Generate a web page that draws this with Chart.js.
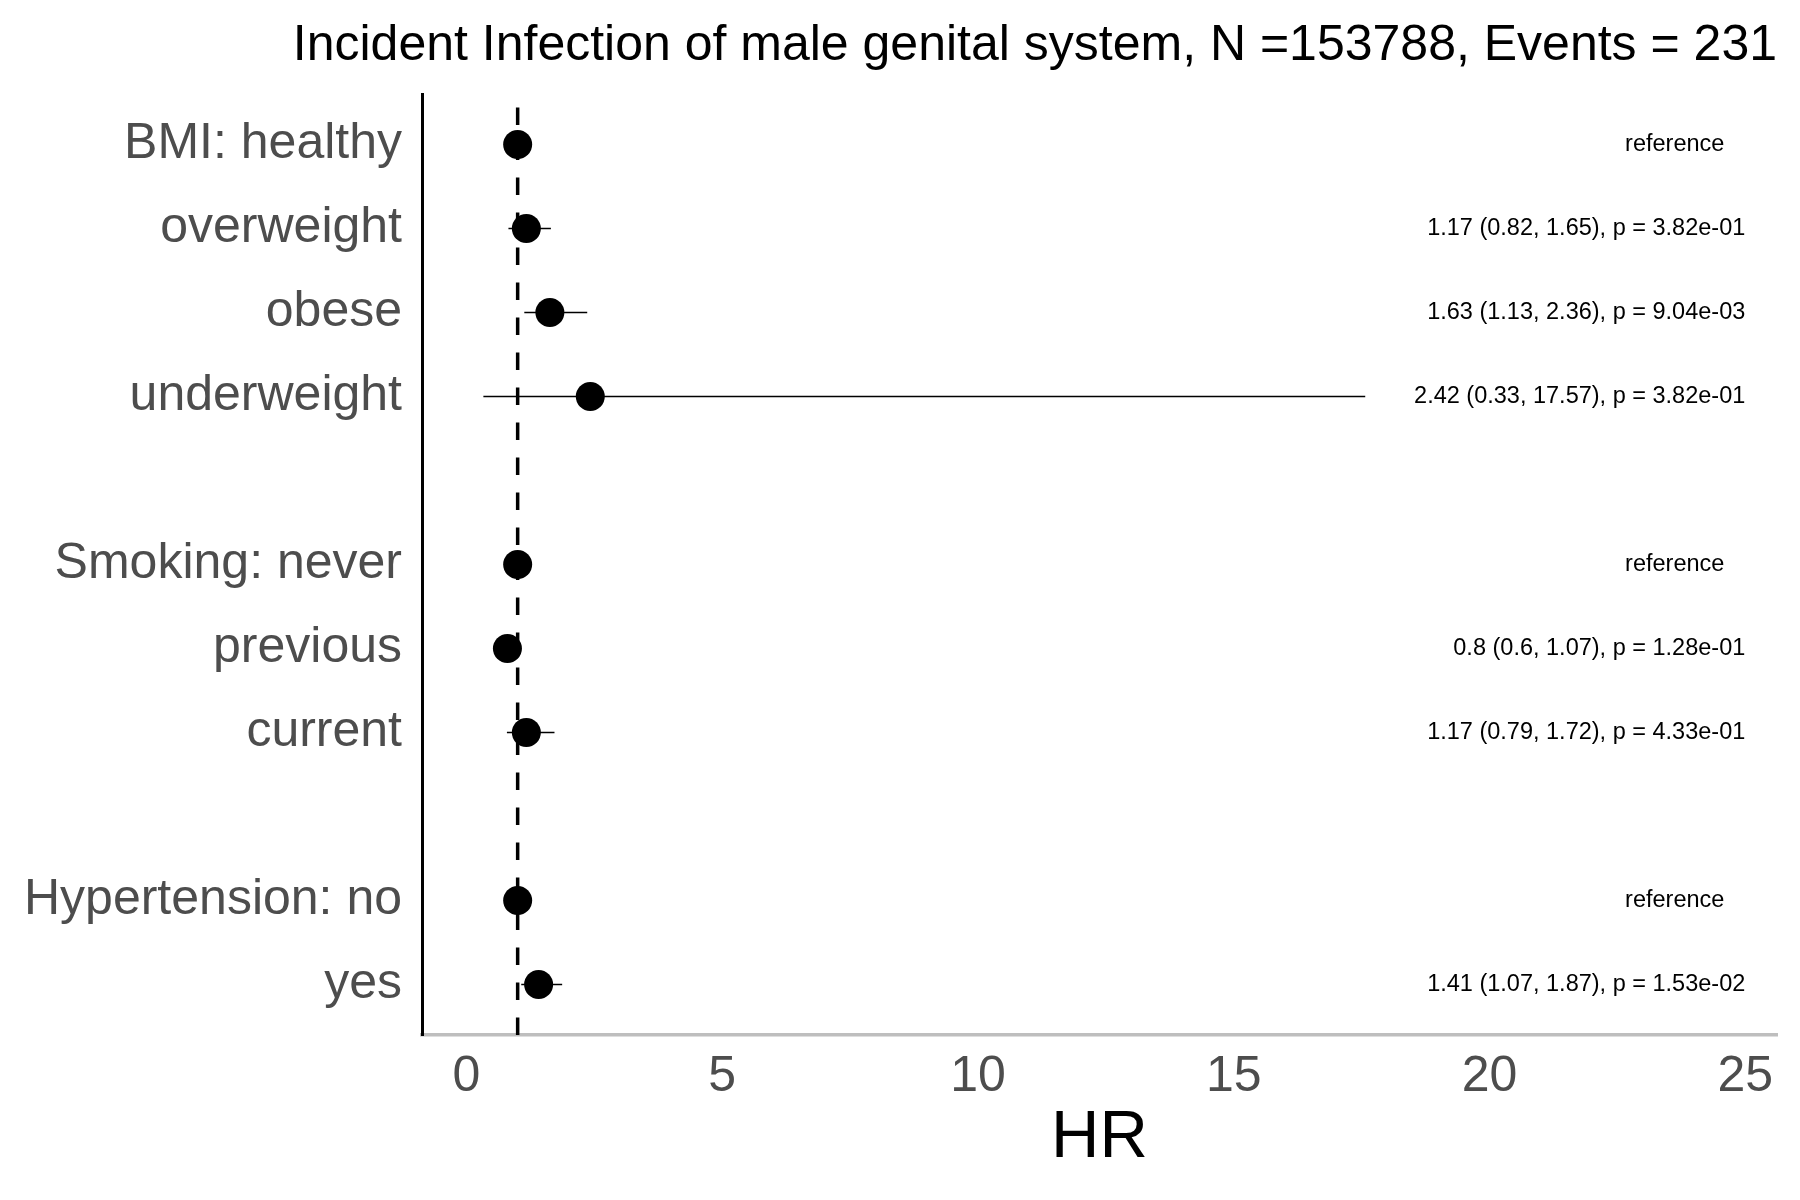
<!DOCTYPE html>
<html>
<head>
<meta charset="utf-8">
<script src="https://cdn.jsdelivr.net/npm/chart.js@4.4.1/dist/chart.umd.min.js"></script>
<style>
  html, body { margin: 0; padding: 0; background: #fff; }
  #wrap { width: 1800px; height: 1200px; }
</style>
</head>
<body>
<div id="wrap"><canvas id="forest" width="1800" height="1200"></canvas></div>
<script>
const rowLabels = ['BMI: healthy', 'overweight', 'obese', 'underweight', '',
  'Smoking: never', 'previous', 'current', '',
  'Hypertension: no', 'yes'];
const hr    = [1, 1.17, 1.63, 2.42, null, 1, 0.8, 1.17, null, 1, 1.41];
const lower = [null, 0.82, 1.13, 0.33, null, null, 0.6, 0.79, null, null, 1.07];
const upper = [null, 1.65, 2.36, 17.57, null, null, 1.07, 1.72, null, null, 1.87];
const annotations = ['reference', '1.17 (0.82, 1.65), p = 3.82e-01', '1.63 (1.13, 2.36), p = 9.04e-03',
  '2.42 (0.33, 17.57), p = 3.82e-01', '', 'reference', '0.8 (0.6, 1.07), p = 1.28e-01',
  '1.17 (0.79, 1.72), p = 4.33e-01', '', 'reference', '1.41 (1.07, 1.87), p = 1.53e-02'];
const xTicks = [0, 5, 10, 15, 20, 25];
const titleText = 'Incident Infection of male genital system, N =153788, Events = 231';

const FONT = "'Liberation Sans', Arial, Helvetica, sans-serif";
const Y_MIN = -0.6, Y_MAX = rowLabels.length - 1 + 0.6;

// one thin line per row with a confidence interval
const ciSets = hr.map((v, i) => lower[i] == null ? null : {
  type: 'line',
  data: [{ x: lower[i], y: i }, { x: upper[i], y: i }],
  borderColor: '#000',
  borderWidth: 1.5,
  pointRadius: 0,
  showLine: true
}).filter(Boolean);

const annotationText = {
  id: 'annotationText',
  afterDatasetsDraw(chart) {
    const { ctx, scales: { x, y } } = chart;
    ctx.save();
    ctx.font = `23.5px ${FONT}`;
    ctx.fillStyle = '#000';
    ctx.textBaseline = 'middle';
    annotations.forEach((t, i) => {
      if (!t) return;
      const py = y.getPixelForValue(i);
      if (t === 'reference') {
        ctx.textAlign = 'center';
        ctx.fillText(t, x.getPixelForValue(23.62), py);
      } else {
        ctx.textAlign = 'right';
        ctx.fillText(t, x.getPixelForValue(25.0), py);
      }
    });
    ctx.restore();
  }
};

new Chart(document.getElementById('forest'), {
  type: 'scatter',
  data: {
    datasets: [
      {
        data: hr.map((v, i) => v == null ? null : { x: v, y: i }).filter(Boolean),
        backgroundColor: '#000',
        borderWidth: 0,
        pointRadius: 14.5
      },
      ...ciSets,
      {
        type: 'line',
        data: [{ x: 1, y: Y_MAX }, { x: 1, y: Y_MIN }],
        borderColor: '#000',
        borderWidth: 3.5,
        borderDash: [17.5, 17.5],
        pointRadius: 0,
        showLine: true
      }
    ]
  },
  options: {
    responsive: false,
    devicePixelRatio: 1,
    animation: false,
    layout: { padding: { top: 0, right: 23, bottom: 0, left: 0 } },
    plugins: {
      legend: { display: false },
      tooltip: { enabled: false },
      title: {
        display: true,
        text: titleText,
        align: 'end',
        color: '#000',
        font: { family: FONT, size: 50, weight: 'normal' },
        padding: { top: 16, bottom: 18 }
      }
    },
    scales: {
      x: {
        type: 'linear',
        min: -0.87,
        max: 25.62,
        afterBuildTicks: s => { s.ticks = xTicks.map(v => ({ value: v })); },
        afterFit: s => { s.height = 165; },
        grid: { display: false, drawTicks: false },
        border: { display: true, color: '#bebebe', width: 3.5 },
        ticks: { color: '#4d4d4d', font: { family: FONT, size: 50 }, padding: 12 },
        title: {
          display: true,
          text: 'HR',
          color: '#000',
          font: { family: FONT, size: 67 },
          padding: { top: 0, bottom: 21 }
        }
      },
      y: {
        type: 'linear',
        reverse: true,
        min: Y_MIN,
        max: Y_MAX,
        afterBuildTicks: s => { s.ticks = rowLabels.map((l, i) => ({ value: i })); },
        afterFit: s => { s.width = 422; },
        grid: { display: false, drawTicks: false },
        border: { display: true, color: '#000', width: 3 },
        ticks: {
          color: '#4d4d4d',
          font: { family: FONT, size: 50 },
          padding: 20,
          callback: v => rowLabels[v]
        }
      }
    }
  },
  plugins: [annotationText]
});
</script>
</body>
</html>
